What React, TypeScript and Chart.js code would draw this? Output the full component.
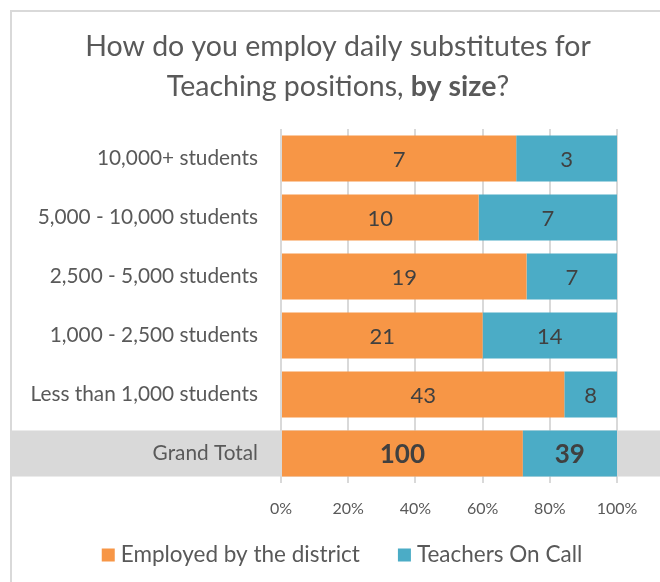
import React, { useEffect, useRef } from 'react';
import { Chart, registerables } from 'chart.js';

Chart.register(...registerables);

// ---- Data ----
const categories = [
  '10,000+ students',
  '5,000 - 10,000 students',
  '2,500 - 5,000 students',
  '1,000 - 2,500 students',
  'Less than 1,000 students',
  'Grand Total',
];
const employedCounts = [7, 10, 19, 21, 43, 100];
const onCallCounts = [3, 7, 7, 14, 8, 39];
const seriesNames = ['Employed by the district', 'Teachers On Call'];
const xTickValues = [0, 20, 40, 60, 80, 100];
const xTickLabels = ['0%', '20%', '40%', '60%', '80%', '100%'];
const titleLine1 = 'How do you employ daily substitutes for';
const titleLine2 = [
  { text: 'Teaching positions, ', bold: false },
  { text: 'by size', bold: true },
  { text: '?', bold: false },
];

// ---- Styles ----
const FONT = 'Lato, "Open Sans", sans-serif';
const ORANGE = '#F79646';
const BLUE = '#4BACC6';
const TEXT = '#595959';
const LABEL = '#404040';
const GRID = '#d9d9d9';
const TITLE_SIZE = 28.5;
const LEGEND_SIZE = 22.5;
const YLABEL_SIZE = 20.8;

const totals = employedCounts.map((v, i) => v + onCallCounts[i]);
const employedPct = employedCounts.map((v, i) => (v / totals[i]) * 100);
const onCallPct = onCallCounts.map((v, i) => (v / totals[i]) * 100);
const countsBySeries = [employedCounts, onCallCounts];
const colors = [ORANGE, BLUE];

const framePlugin = {
  id: 'frame',
  beforeDraw(chart: any) {
    const ctx = chart.ctx;
    ctx.save();
    ctx.fillStyle = '#ffffff';
    ctx.fillRect(0, 0, chart.width, chart.height);
    ctx.strokeStyle = GRID;
    ctx.lineWidth = 2;
    ctx.beginPath();
    ctx.moveTo(11, chart.height);
    ctx.lineTo(11, 11);
    ctx.lineTo(chart.width, 11);
    ctx.stroke();
    const meta = chart.getDatasetMeta(0);
    const el = meta.data[categories.length - 1];
    if (el) {
      const p = el.getProps(['y', 'height'], true);
      ctx.fillStyle = '#d9d9d9';
      ctx.fillRect(12, p.y - p.height / 2, chart.width - 12, p.height);
    }
    ctx.restore();
  },
};

const labelPlugin = {
  id: 'barLabels',
  afterDatasetsDraw(chart: any) {
    const ctx = chart.ctx;
    ctx.save();
    ctx.textAlign = 'center';
    ctx.textBaseline = 'middle';
    ctx.fillStyle = LABEL;
    chart.data.datasets.forEach((_ds: any, di: number) => {
      const meta = chart.getDatasetMeta(di);
      meta.data.forEach((el: any, i: number) => {
        const p = el.getProps(['x', 'y', 'base'], true);
        const isTotal = i === categories.length - 1;
        ctx.font = isTotal ? `bold 26px ${FONT}` : `22px ${FONT}`;
        ctx.fillText(String(countsBySeries[di][i]), (p.x + p.base) / 2, p.y + 1);
      });
    });
    ctx.restore();
  },
};

const titleLegendPlugin = {
  id: 'titleLegend',
  afterDraw(chart: any) {
    const ctx = chart.ctx;
    ctx.save();
    ctx.fillStyle = TEXT;
    ctx.textBaseline = 'middle';
    const cx = 338;
    // title line 1
    ctx.font = `${TITLE_SIZE}px ${FONT}`;
    ctx.textAlign = 'center';
    ctx.fillText(titleLine1, cx, 47);
    // title line 2 (mixed weight)
    ctx.textAlign = 'left';
    const widths = titleLine2.map((part) => {
      ctx.font = `${part.bold ? 'bold ' : ''}${TITLE_SIZE}px ${FONT}`;
      return ctx.measureText(part.text).width;
    });
    let x = cx - widths.reduce((a, b) => a + b, 0) / 2;
    titleLine2.forEach((part, i) => {
      ctx.font = `${part.bold ? 'bold ' : ''}${TITLE_SIZE}px ${FONT}`;
      ctx.fillText(part.text, x, 87);
      x += widths[i];
    });
    // legend
    ctx.font = `${LEGEND_SIZE}px ${FONT}`;
    const box = 13;
    const gapBoxText = 6;
    const gapItems = 38;
    const itemWidths = seriesNames.map((n) => box + gapBoxText + ctx.measureText(n).width);
    const total = itemWidths.reduce((a, b) => a + b, 0) + gapItems * (seriesNames.length - 1);
    let lx = 342 - total / 2;
    const ly = 555;
    seriesNames.forEach((n, i) => {
      ctx.fillStyle = colors[i];
      ctx.fillRect(lx, ly - box / 2, box, box);
      ctx.fillStyle = TEXT;
      ctx.fillText(n, lx + box + gapBoxText, ly);
      lx += itemWidths[i] + gapItems;
    });
    ctx.restore();
  },
};

export default function App() {
  const ref = useRef<HTMLCanvasElement | null>(null);
  useEffect(() => {
    if (!ref.current) return;
    const chart = new Chart(ref.current, {
      type: 'bar',
      data: {
        labels: categories,
        datasets: [
          {
            label: seriesNames[0],
            data: employedPct,
            backgroundColor: ORANGE,
            barPercentage: 0.78,
            categoryPercentage: 1,
          },
          {
            label: seriesNames[1],
            data: onCallPct,
            backgroundColor: BLUE,
            barPercentage: 0.78,
            categoryPercentage: 1,
          },
        ],
      },
      options: {
        indexAxis: 'y',
        responsive: false,
        animation: false,
        devicePixelRatio: 1,
        layout: { padding: { top: 129, left: 11, right: 43, bottom: 60 } },
        plugins: {
          legend: { display: false },
          title: { display: false },
          tooltip: { enabled: false },
        },
        scales: {
          x: {
            stacked: true,
            min: 0,
            max: 100,
            afterBuildTicks: (s: any) => {
              s.ticks = xTickValues.map((v) => ({ value: v }));
            },
            ticks: {
              color: TEXT,
              font: { family: FONT, size: 16 },
              padding: 16,
              callback: (_v: any, i: number) => xTickLabels[i],
            },
            grid: { color: GRID, lineWidth: 2, drawTicks: false },
            border: { display: false },
            afterFit: (s: any) => {
              s.height = 39;
            },
          },
          y: {
            stacked: true,
            grid: { display: false, drawTicks: false },
            border: { display: false },
            ticks: {
              color: TEXT,
              font: { family: FONT, size: YLABEL_SIZE },
              padding: 23,
            },
            afterFit: (s: any) => {
              s.width = 270;
            },
          },
        },
      },
      plugins: [framePlugin, labelPlugin, titleLegendPlugin],
    });
    return () => chart.destroy();
  }, []);
  return (
    <div style={{ position: 'fixed', left: 0, top: 0, width: 660, height: 582, background: '#fff' }}>
      <canvas ref={ref} width={660} height={582} />
    </div>
  );
}
